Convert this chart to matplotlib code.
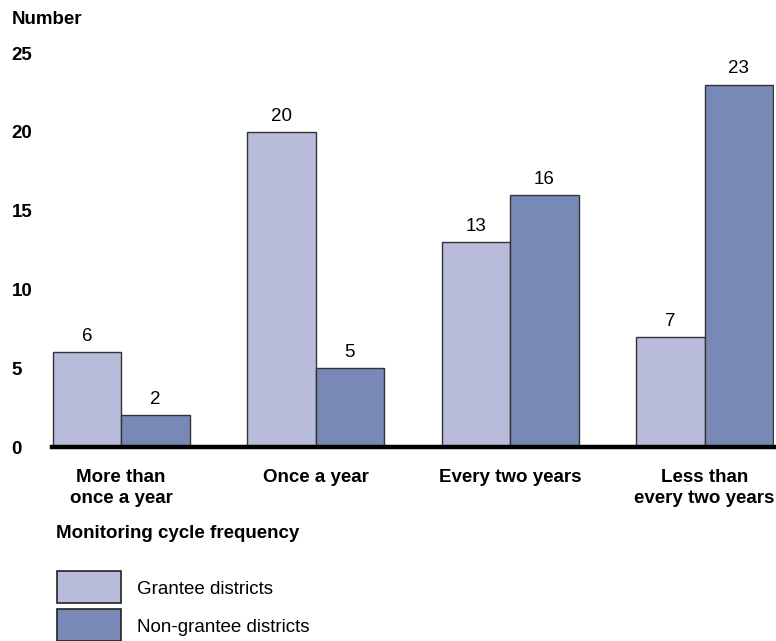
import numpy as np
import matplotlib
matplotlib.use("Agg")
import matplotlib.pyplot as plt
from matplotlib.patches import Rectangle

plt.rcParams["font.family"] = ["Liberation Sans", "DejaVu Sans"]

categories = ["More than\nonce a year", "Once a year", "Every two years", "Less than\nevery two years"]
grantee = [6, 20, 13, 7]
non_grantee = [2, 5, 16, 23]
series_names = ["Grantee districts", "Non-grantee districts"]
yticks = [0, 5, 10, 15, 20, 25]

LIGHT = "#b8bbda"
DARK = "#7889b8"
EDGE = "#333333"
FS = 13.5

W, H = 776, 641
fig = plt.figure(figsize=(W / 100, H / 100), dpi=100)


def fx(px):
    return px / W


def fy(py):
    return 1 - py / H


ax = fig.add_axes([fx(52), fy(447), fx(774) - fx(52), fy(53) - fy(447)])

x = np.arange(len(categories))
bw = 0.352
b1 = ax.bar(x - bw / 2, grantee, bw, color=LIGHT, edgecolor=EDGE, linewidth=1)
b2 = ax.bar(x + bw / 2, non_grantee, bw, color=DARK, edgecolor=EDGE, linewidth=1)

for bars, vals in [(b1, grantee), (b2, non_grantee)]:
    for r, v in zip(bars, vals):
        ax.text(r.get_x() + r.get_width() / 2, v + 0.45, str(v),
                ha="center", va="bottom", fontsize=FS, clip_on=False)

ax.axhline(0, color="black", linewidth=3.2, clip_on=False, zorder=5)

ax.set_xlim(-0.355, 3.357)
ax.set_ylim(0, 25)
ax.set_yticks(yticks)
ax.set_yticklabels([str(t) for t in yticks], fontweight="bold", fontsize=FS, ha="left")
ax.tick_params(axis="y", length=0, pad=29)
ax.set_xticks(x)
ax.set_xticklabels(categories, fontweight="bold", fontsize=FS, linespacing=1.3)
ax.tick_params(axis="x", length=0, pad=16)
for s in ax.spines.values():
    s.set_visible(False)

fig.text(fx(12), fy(19), "Number", fontweight="bold", fontsize=FS, va="center")
fig.text(fx(56), fy(534), "Monitoring cycle frequency", fontweight="bold",
         fontsize=FS, va="center")

# legend boxes drawn by hand
for i, (name, col) in enumerate(zip(series_names, [LIGHT, DARK])):
    top = 571 + i * 38
    fig.patches.append(Rectangle((fx(57), fy(top + 32)), fx(121) - fx(57), fy(top) - fy(top + 32),
                                 transform=fig.transFigure, facecolor=col,
                                 edgecolor="#222222", linewidth=1.2))
    fig.text(fx(137), fy(top + 19), name, fontsize=FS, va="center")

fig.savefig("out.png", dpi=100)
